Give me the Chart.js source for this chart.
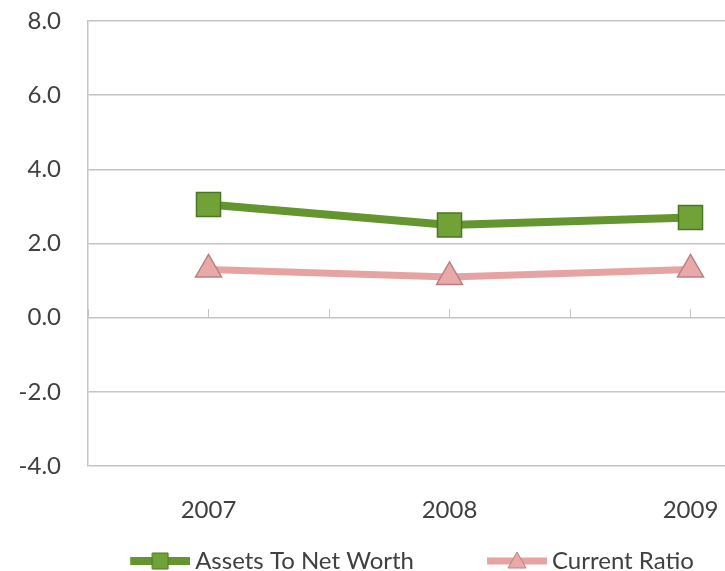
<!DOCTYPE html>
<html>
<head>
<meta charset="utf-8">
<script src="https://cdn.jsdelivr.net/npm/chart.js@4.4.1/dist/chart.umd.min.js"></script>
<style>
  html, body { margin: 0; padding: 0; background: #fff; }
  #wrap { width: 725px; height: 571px; overflow: hidden; }
</style>
</head>
<body>
<div id="wrap"><canvas id="chart" width="849" height="583"></canvas></div>
<script>
// chart data
const years = ["2007", "2008", "2009"];
const assetsToNetWorth = [3.05, 2.5, 2.7];
const currentRatio = [1.3, 1.1, 1.3];
const yTicks = [-4, -2, 0, 2, 4, 6, 8];

const textColor = "#404040";
const gridColor = "#c4c4c4";
const fontFamily = "Lato, 'Open Sans', sans-serif";
const fontSize = 24;

// line+marker icon for the legend (icon sits in x 4..64 of the image)
function legendIcon(color, fill, border, shape, lineWidth) {
  const c = document.createElement("canvas");
  c.width = 64;
  c.height = 26;
  const g = c.getContext("2d");
  g.strokeStyle = color;
  g.lineWidth = lineWidth;
  g.beginPath();
  g.moveTo(4, 13);
  g.lineTo(64, 13);
  g.stroke();
  g.fillStyle = fill;
  g.strokeStyle = border;
  g.lineWidth = 1;
  g.beginPath();
  if (shape === "rect") {
    g.rect(26, 5, 16, 16);
  } else {
    g.moveTo(34, 4);
    g.lineTo(43, 20);
    g.lineTo(25, 20);
    g.closePath();
  }
  g.fill();
  g.stroke();
  return c;
}

const ctx = document.getElementById("chart").getContext("2d");
new Chart(ctx, {
  type: "line",
  data: {
    labels: years,
    datasets: [
      {
        label: "Assets To Net Worth",
        data: assetsToNetWorth,
        borderColor: "#64952f",
        borderWidth: 8,
        pointStyle: "rect",
        pointRadius: 17,
        pointBackgroundColor: "#70a238",
        pointBorderColor: "#4b7624",
        pointBorderWidth: 1.5,
        tension: 0,
        icon: legendIcon("#64952f", "#70a238", "#4b7624", "rect", 8),
      },
      {
        label: "Current Ratio",
        data: currentRatio,
        borderColor: "#e6a3a3",
        borderWidth: 7,
        pointStyle: "triangle",
        pointRadius: 15,
        pointBackgroundColor: "#eaa9a9",
        pointBorderColor: "#b98080",
        pointBorderWidth: 1.5,
        tension: 0,
        icon: legendIcon("#e6a3a3", "#eaa9a9", "#b98080", "tri", 7),
      },
    ],
  },
  options: {
    responsive: false,
    animation: false,
    layout: { padding: { left: 16, right: 38, top: 21, bottom: 0 } },
    plugins: {
      tooltip: { enabled: false },
      legend: {
        position: "bottom",
        labels: {
          usePointStyle: true,
          pointStyleWidth: 50,
          padding: 76,
          color: textColor,
          font: { family: fontFamily, size: fontSize },
          generateLabels: (chart) =>
            chart.data.datasets.map((ds, i) => ({
              text: ds.label,
              pointStyle: ds.icon,
              fontColor: textColor,
              lineWidth: 0,
              strokeStyle: "transparent",
              fillStyle: "transparent",
              datasetIndex: i,
              hidden: false,
            })),
        },
      },
    },
    scales: {
      // category scale the lines are plotted on; it only keeps a small gap above the legend
      x: {
        type: "category",
        offset: true,
        grid: { display: false, drawTicks: false },
        border: { display: false },
        ticks: { display: false },
        afterFit: (s) => { s.height = 7; },
      },
      // axis crossing at y = 0: tick marks every half category, year labels pushed to the bottom
      xt: {
        type: "linear",
        position: { y: 0 },
        min: -0.5,
        max: years.length - 0.5,
        ticks: {
          stepSize: 0.5,
          autoSkip: false,
          maxRotation: 0,
          padding: 187,
          color: textColor,
          font: { family: fontFamily, size: fontSize },
          callback: (v) => (Number.isInteger(v) && years[v]) || "",
        },
        grid: {
          drawOnChartArea: false,
          drawTicks: true,
          tickLength: -9,
          color: gridColor,
        },
        border: { display: false },
        afterFit: (s) => {
          s.paddingLeft = 0;
          s.paddingRight = 0;
        },
      },
      y: {
        min: yTicks[0],
        max: yTicks[yTicks.length - 1],
        afterBuildTicks: (s) => { s.ticks = yTicks.map((v) => ({ value: v })); },
        grid: { color: gridColor, lineWidth: 1.5, drawTicks: false },
        border: { display: true, color: gridColor, width: 1.5 },
        ticks: {
          color: textColor,
          padding: 27,
          font: { family: fontFamily, size: fontSize },
          callback: (v) => v.toFixed(1),
        },
        afterFit: (s) => {
          s.width = 72;
          s.paddingTop = 14;
          s.paddingBottom = 14;
        },
      },
    },
  },
});
</script>
</body>
</html>
